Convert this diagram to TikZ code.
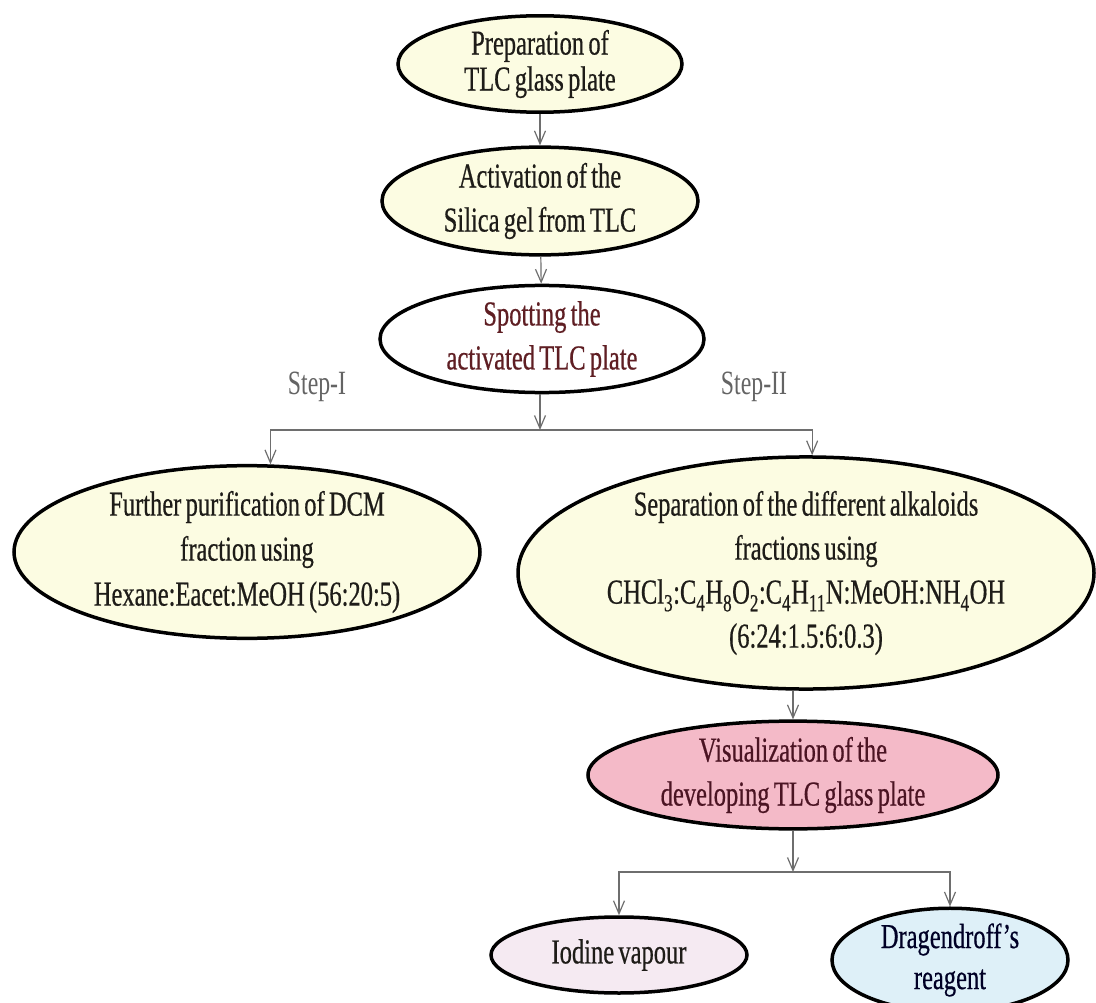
\documentclass[tikz,border=0pt]{standalone}
\usepackage{fontspec}
\setmainfont{Liberation Serif}[FakeStretch=0.7,WordSpace=0.7,FakeBold=0.5]
\newfontfamily\steplabelfont{Liberation Serif}[FakeStretch=0.7]
\usetikzlibrary{shapes.geometric,arrows.meta}
\definecolor{creamfill}{RGB}{252,252,226}
\definecolor{pinkfill}{RGB}{244,186,200}
\definecolor{lilacfill}{RGB}{245,234,242}
\definecolor{bluefill}{RGB}{222,240,248}
\definecolor{inkdark}{RGB}{30,28,24}
\definecolor{inkmaroon}{RGB}{95,30,35}
\definecolor{inkplum}{RGB}{75,20,35}
\definecolor{linegray}{RGB}{110,110,110}
\definecolor{stepgray}{RGB}{100,100,100}
\begin{document}
\begin{tikzpicture}[x=1pt,y=-1pt,
  bubble/.style={ellipse,draw=black,line width=3.5pt,inner sep=0pt,align=center,
    font=\fontsize{35}{44}\selectfont,text=inkdark},
  flow/.style={draw=linegray,line width=1.2pt,-{Straight Barb[length=13pt,width=11pt]}},
  steplabel/.style={text=stepgray,font=\steplabelfont\fontsize{34}{40}\selectfont}]
  \useasboundingbox (0,0) rectangle (1096,1003);
  % main chain
  \node[bubble,fill=creamfill,minimum width=284pt,minimum height=92pt,
    font=\fontsize{35}{36}\selectfont] (prep) at (540,64) {Preparation of\\TLC glass plate};
  \node[bubble,fill=creamfill,minimum width=316pt,minimum height=96pt] (activ) at (540,201)
    {Activation of the\\Silica gel from TLC};
  \node[bubble,fill=white,text=inkmaroon,minimum width=324pt,minimum height=90pt] (spot) at (542,339)
    {Spotting the\\activated TLC plate};
  \draw[flow] (prep) -- (activ);
  \draw[flow] (activ) -- (spot);
  % the two steps
  \node[steplabel] (stepone) at (317,387) {Step-I};
  \node[steplabel] (steptwo) at (754,387) {Step-II};
  \node[bubble,fill=creamfill,minimum width=466pt,minimum height=152pt,
    font=\fontsize{35}{45}\selectfont] (purif) at (247,552)
    {Further purification of DCM\\fraction using\\Hexane:Eacet:MeOH (56:20:5)};
  \node[bubble,fill=creamfill,minimum width=576pt,minimum height=196pt] (separ) at (806,573)
    {Separation of the different alkaloids\\fractions using\\
     CHCl\textsubscript{3}:C\textsubscript{4}H\textsubscript{8}O\textsubscript{2}:C\textsubscript{4}H\textsubscript{11}N:MeOH:NH\textsubscript{4}OH\\(6:24:1.5:6:0.3)};
  \coordinate (splitone) at (540,430);
  \draw[flow] (spot.south -| splitone) -- (splitone);
  \draw[flow] (splitone) -| (purif.75);
  \draw[flow] (splitone) -| (separ.87);
  % visualization
  \node[bubble,fill=pinkfill,text=inkplum,minimum width=410pt,minimum height=106pt] (visual) at (793,775)
    {Visualization of the\\developing TLC glass plate};
  \draw[flow] (separ.south -| visual.north) -- (visual.north);
  \node[bubble,fill=lilacfill,minimum width=256pt,minimum height=76pt] (iodine) at (619,955)
    {Iodine vapour};
  \node[bubble,fill=bluefill,text=black!85!blue,minimum width=236pt,minimum height=88pt,
    font=\fontsize{35}{41}\selectfont] (dragen) at (950,960) {Dragendroff’s\\reagent};
  \coordinate (splittwo) at (793,872);
  \draw[flow] (visual.south) -- (splittwo);
  \draw[flow] (splittwo) -| (iodine.north);
  \draw[flow] (splittwo) -| (dragen.north);
\end{tikzpicture}
\end{document}
